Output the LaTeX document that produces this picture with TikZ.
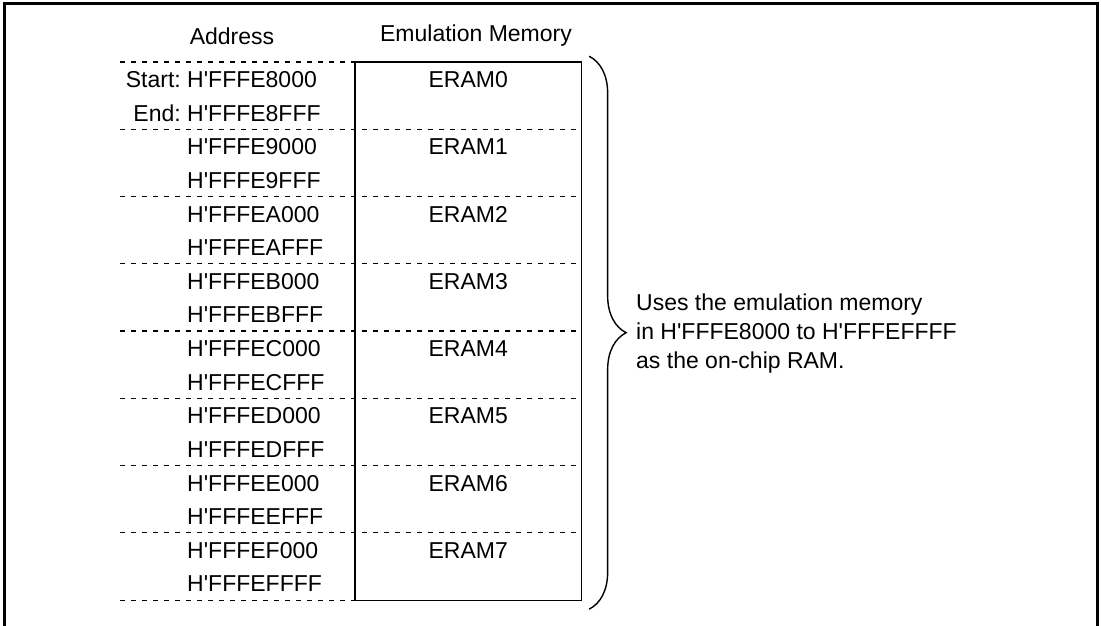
\documentclass[tikz,border=0pt]{standalone}
\usepackage{fontspec}
\setmainfont{Liberation Sans}
\usepackage{tikz}
\usetikzlibrary{matrix}
\usetikzlibrary{decorations.pathreplacing}
\usetikzlibrary{fit}

\newcommand{\hq}{H\textquotesingle}

\begin{document}
\begin{tikzpicture}[x=1pt, y=-1pt, font=\fontsize{23}{29}\selectfont,
    sep line/.style={dash pattern=on 5pt off 6pt, line width=1.1pt}]
      \useasboundingbox (0,0) rectangle (1101,626);
      \draw[line width=3pt] (4,626) -- (4,4) -- (1097,4) -- (1097,626);
      \node (addr) at (232,36) {Address};
      \node (emu) at (476,36) {Emulation Memory};
      \matrix (m) [matrix of nodes, nodes in empty cells, anchor=north west, inner sep=0pt,
        row sep=0pt, column sep=0pt,
        nodes={anchor=center, inner sep=0pt, minimum height=33.625pt, text height=19pt, text depth=2pt},
        column 1/.style={nodes={text width=168pt, align=left}},
        column 2/.style={nodes={text width=226pt, align=center}}] at (187,62)
      { \hq FFFE8000 & ERAM0 \\
        \hq FFFE8FFF &       \\
        \hq FFFE9000 & ERAM1 \\
        \hq FFFE9FFF &       \\
        \hq FFFEA000 & ERAM2 \\
        \hq FFFEAFFF &       \\
        \hq FFFEB000 & ERAM3 \\
        \hq FFFEBFFF &       \\
        \hq FFFEC000 & ERAM4 \\
        \hq FFFECFFF &       \\
        \hq FFFED000 & ERAM5 \\
        \hq FFFEDFFF &       \\
        \hq FFFEE000 & ERAM6 \\
        \hq FFFEEFFF &       \\
        \hq FFFEF000 & ERAM7 \\
        \hq FFFEFFFF &       \\ };
      \node[anchor=base east, inner sep=0pt] (start) at ([xshift=-6pt]m-1-1.base west) {Start:};
      \node[anchor=base east, inner sep=0pt] (end) at ([xshift=-6pt]m-2-1.base west) {End:};
      \draw[sep line] ([xshift=-67pt]m-1-1.north west) -- (m-1-2.north east);
      \draw[sep line] ([xshift=-67pt]m-3-1.north west) -- (m-3-2.north east);
      \draw[sep line] ([xshift=-67pt]m-5-1.north west) -- (m-5-2.north east);
      \draw[sep line] ([xshift=-67pt]m-7-1.north west) -- (m-7-2.north east);
      \draw[sep line] ([xshift=-67pt]m-9-1.north west) -- (m-9-2.north east);
      \draw[sep line] ([xshift=-67pt]m-11-1.north west) -- (m-11-2.north east);
      \draw[sep line] ([xshift=-67pt]m-13-1.north west) -- (m-13-2.north east);
      \draw[sep line] ([xshift=-67pt]m-15-1.north west) -- (m-15-2.north east);
      \draw[sep line] ([xshift=-67pt]m-16-1.south west) -- (m-16-2.south east);
      \node[fit=(m-1-2) (m-16-2), draw, line width=1.5pt, inner sep=0pt] (mem) {};
      \draw[line width=1.4pt, decorate, decoration={brace, amplitude=37pt}]
        ([xshift=7pt, yshift=5pt]mem.north east) -- ([xshift=7pt, yshift=-8pt]mem.south east);
      \coordinate (tip) at (625,332);
      \node[anchor=west, align=left, inner sep=0pt] (note) at ([xshift=11pt, yshift=-2pt]tip)
        {Uses the emulation memory\\ in \hq FFFE8000 to \hq FFFEFFFF\\ as the on-chip RAM.};
    \end{tikzpicture}
\end{document}
